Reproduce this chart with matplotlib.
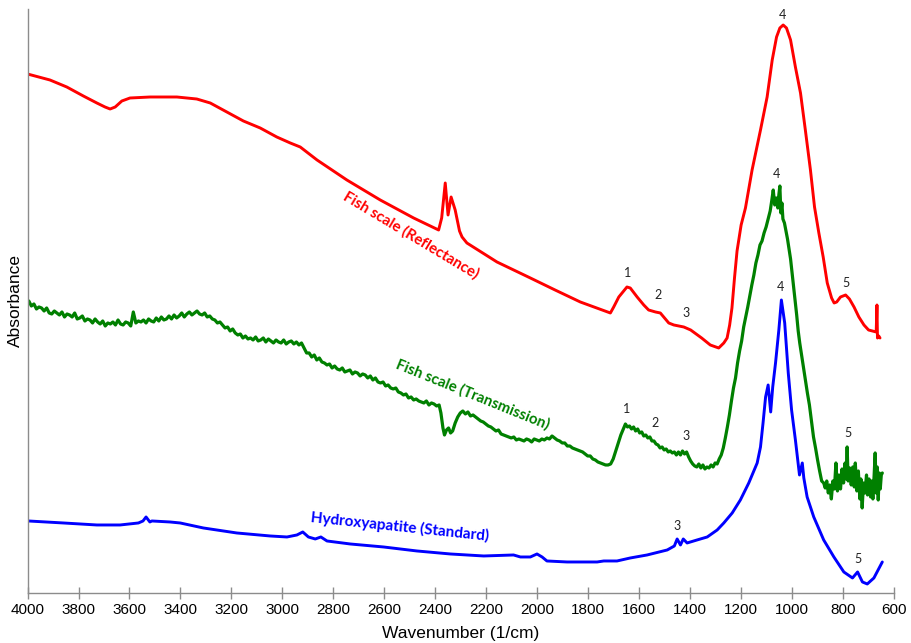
import matplotlib
matplotlib.use("Agg")
import matplotlib.pyplot as plt

# ---- Fish scale, reflectance spectrum (wavenumber, absorbance a.u.) ----
refl_wn = [4000, 3912, 3846, 3781, 3728, 3696, 3676, 3656, 3630, 3598, 3519, 3414,
           3336, 3283, 3218, 3153, 3087, 3022, 2969, 2930, 2864, 2747, 2616, 2485,
           2387, 2375, 2361, 2350, 2338, 2322, 2305, 2295, 2276, 2158, 2027, 1930,
           1831, 1713, 1700, 1680, 1648, 1635, 1608, 1582, 1563, 1536, 1517, 1484,
           1464, 1425, 1398, 1355, 1321, 1288, 1268, 1255, 1245, 1236, 1226, 1216,
           1200, 1183, 1157, 1124, 1098, 1078, 1061, 1048, 1035, 1022, 1006, 987,
           967, 948, 928, 912, 895, 878, 862, 845, 835, 825, 810, 790, 775, 757,
           738, 718, 700, 685, 670, 667, 665, 660, 655]
refl_abs = [5.19, 5.13, 5.06, 4.97, 4.90, 4.86, 4.84, 4.86, 4.92, 4.95, 4.96, 4.96,
            4.94, 4.90, 4.81, 4.72, 4.65, 4.56, 4.50, 4.46, 4.33, 4.13, 3.93, 3.75,
            3.63, 3.75, 4.10, 3.78, 3.96, 3.83, 3.62, 3.56, 3.50, 3.31, 3.15, 3.03,
            2.91, 2.80, 2.86, 2.96, 3.06, 3.05, 2.96, 2.88, 2.83, 2.81, 2.80, 2.70,
            2.68, 2.66, 2.63, 2.55, 2.48, 2.45, 2.50, 2.55, 2.68, 2.85, 3.15, 3.42,
            3.68, 3.85, 4.23, 4.63, 4.96, 5.33, 5.56, 5.65, 5.68, 5.65, 5.53, 5.26,
            5.00, 4.63, 4.23, 3.86, 3.60, 3.36, 3.10, 2.95, 2.90, 2.91, 2.96, 2.98,
            2.94, 2.86, 2.76, 2.68, 2.63, 2.62, 2.61, 2.88, 2.55, 2.57, 2.55]

# ---- Fish scale, transmission spectrum ----
trans_wn = [3995, 3985, 3975, 3965, 3955, 3945, 3935, 3925, 3915, 3905, 3895, 3885,
            3875, 3865, 3855, 3845, 3835, 3825, 3815, 3805, 3795, 3785, 3775, 3765,
            3755, 3745, 3735, 3725, 3715, 3705, 3695, 3685, 3675, 3665, 3655, 3645,
            3635, 3625, 3615, 3605, 3595, 3585, 3575, 3565, 3555, 3545, 3535, 3525,
            3515, 3505, 3495, 3485, 3475, 3465, 3455, 3445, 3435, 3425, 3415, 3405,
            3395, 3385, 3375, 3365, 3355, 3345, 3335, 3325, 3315, 3305, 3295, 3285,
            3275, 3265, 3255, 3245, 3235, 3225, 3215, 3205, 3195, 3185, 3175, 3165,
            3155, 3145, 3135, 3125, 3115, 3105, 3095, 3085, 3075, 3065, 3055, 3045,
            3035, 3025, 3015, 3005, 2995, 2985, 2975, 2965, 2955, 2945, 2935, 2925,
            2915, 2905, 2895, 2885, 2875, 2865, 2855, 2845, 2835, 2825, 2815, 2805,
            2795, 2785, 2775, 2765, 2755, 2745, 2735, 2725, 2715, 2705, 2695, 2685,
            2675, 2665, 2655, 2645, 2635, 2625, 2615, 2605, 2595, 2585, 2575, 2565,
            2555, 2545, 2535, 2525, 2515, 2505, 2495, 2485, 2475, 2465, 2455, 2445,
            2435, 2425, 2415, 2405, 2395, 2385, 2378, 2370, 2364, 2356, 2348, 2340,
            2332, 2322, 2312, 2302, 2292, 2282, 2272, 2262, 2252, 2242, 2232, 2222,
            2212, 2202, 2192, 2182, 2172, 2162, 2152, 2142, 2132, 2122, 2112, 2102,
            2092, 2082, 2072, 2062, 2052, 2042, 2032, 2022, 2012, 2002, 1992, 1982,
            1972, 1962, 1952, 1942, 1932, 1922, 1912, 1902, 1892, 1882, 1872, 1862,
            1852, 1842, 1832, 1822, 1812, 1802, 1792, 1782, 1772, 1762, 1752, 1742,
            1732, 1722, 1712, 1702, 1692, 1682, 1672, 1662, 1654, 1646, 1638, 1630,
            1622, 1614, 1606, 1598, 1590, 1582, 1574, 1566, 1558, 1550, 1542, 1534,
            1526, 1518, 1510, 1502, 1494, 1486, 1478, 1470, 1462, 1454, 1446, 1438,
            1430, 1422, 1414, 1406, 1398, 1390, 1382, 1374, 1366, 1358, 1350, 1342,
            1334, 1326, 1318, 1310, 1302, 1294, 1286, 1278, 1270, 1262, 1254, 1246,
            1238, 1230, 1222, 1214, 1206, 1198, 1190, 1182, 1174, 1166, 1158, 1150,
            1142, 1134, 1126, 1118, 1110, 1102, 1094, 1086, 1080, 1074, 1068, 1062,
            1056, 1052, 1048, 1044, 1040, 1036, 1030, 1024, 1018, 1012, 1006, 1000,
            994, 988, 982, 976, 970, 964, 958, 952, 946, 940, 932, 924,
            916, 908, 900, 892, 884, 876, 870, 864, 858, 852, 846, 840,
            834, 828, 822, 816, 810, 804, 798, 792, 788, 784, 780, 774,
            768, 762, 756, 752, 746, 740, 734, 730, 725, 720, 714, 708,
            704, 698, 692, 688, 683, 678, 674, 670, 666, 662, 658, 654,
            650, 646]
trans_abs = [2.92, 2.87, 2.89, 2.84, 2.86, 2.85, 2.82, 2.85, 2.80, 2.79, 2.82, 2.80,
             2.78, 2.81, 2.76, 2.79, 2.78, 2.76, 2.80, 2.74, 2.75, 2.77, 2.72, 2.74,
             2.73, 2.70, 2.74, 2.71, 2.69, 2.72, 2.67, 2.70, 2.69, 2.71, 2.68, 2.73,
             2.69, 2.68, 2.71, 2.70, 2.67, 2.81, 2.70, 2.72, 2.71, 2.73, 2.70, 2.74,
             2.72, 2.71, 2.75, 2.72, 2.76, 2.73, 2.74, 2.77, 2.74, 2.78, 2.75, 2.77,
             2.80, 2.76, 2.79, 2.81, 2.78, 2.80, 2.82, 2.79, 2.78, 2.80, 2.76, 2.77,
             2.74, 2.73, 2.70, 2.71, 2.68, 2.65, 2.66, 2.62, 2.64, 2.60, 2.58, 2.59,
             2.55, 2.57, 2.54, 2.55, 2.53, 2.56, 2.52, 2.53, 2.55, 2.51, 2.54, 2.52,
             2.50, 2.53, 2.51, 2.50, 2.53, 2.49, 2.51, 2.52, 2.49, 2.51, 2.48, 2.50,
             2.45, 2.40, 2.40, 2.36, 2.38, 2.33, 2.35, 2.31, 2.30, 2.28, 2.29, 2.25,
             2.27, 2.24, 2.23, 2.25, 2.21, 2.22, 2.23, 2.19, 2.21, 2.20, 2.17, 2.19,
             2.18, 2.15, 2.17, 2.13, 2.15, 2.11, 2.10, 2.11, 2.07, 2.08, 2.05, 2.04,
             2.05, 2.01, 2.00, 1.98, 1.99, 1.95, 1.96, 1.93, 1.94, 1.92, 1.91, 1.90,
             1.92, 1.88, 1.90, 1.89, 1.87, 1.88, 1.80, 1.65, 1.58, 1.63, 1.65, 1.60,
             1.62, 1.70, 1.76, 1.80, 1.82, 1.79, 1.81, 1.77, 1.78, 1.76, 1.74, 1.72,
             1.71, 1.69, 1.67, 1.66, 1.64, 1.62, 1.63, 1.59, 1.58, 1.57, 1.56, 1.55,
             1.56, 1.53, 1.54, 1.53, 1.52, 1.54, 1.53, 1.51, 1.54, 1.53, 1.52, 1.54,
             1.53, 1.55, 1.54, 1.57, 1.55, 1.53, 1.52, 1.50, 1.50, 1.47, 1.47, 1.45,
             1.44, 1.43, 1.42, 1.41, 1.39, 1.37, 1.37, 1.34, 1.33, 1.31, 1.30, 1.29,
             1.28, 1.28, 1.29, 1.34, 1.42, 1.50, 1.58, 1.64, 1.69, 1.66, 1.67, 1.64,
             1.66, 1.62, 1.64, 1.60, 1.61, 1.57, 1.58, 1.55, 1.56, 1.52, 1.52, 1.49,
             1.48, 1.45, 1.46, 1.43, 1.44, 1.41, 1.42, 1.40, 1.41, 1.38, 1.41, 1.38,
             1.42, 1.39, 1.41, 1.36, 1.32, 1.29, 1.27, 1.26, 1.29, 1.25, 1.28, 1.24,
             1.26, 1.25, 1.28, 1.26, 1.30, 1.29, 1.34, 1.38, 1.45, 1.55, 1.66, 1.78,
             1.92, 2.05, 2.15, 2.30, 2.42, 2.52, 2.66, 2.76, 2.86, 2.97, 3.08, 3.18,
             3.30, 3.38, 3.48, 3.52, 3.60, 3.66, 3.74, 3.82, 3.92, 4.03, 3.88, 3.95,
             3.85, 3.98, 4.07, 3.80, 3.90, 3.74, 3.70, 3.62, 3.54, 3.44, 3.34, 3.20,
             3.05, 2.92, 2.78, 2.62, 2.50, 2.40, 2.30, 2.20, 2.10, 2.00, 1.88, 1.72,
             1.56, 1.45, 1.33, 1.22, 1.12, 1.10, 1.05, 1.12, 1.00, 1.08, 0.94, 1.12,
             1.04, 1.30, 1.02, 1.18, 1.04, 1.24, 1.10, 1.30, 1.14, 1.46, 1.12, 1.25,
             1.08, 1.26, 1.06, 1.30, 1.02, 1.22, 0.94, 1.14, 0.85, 1.10, 1.00, 1.18,
             0.98, 1.14, 0.96, 1.12, 0.94, 1.18, 1.40, 1.00, 1.26, 0.93, 1.20, 1.04,
             1.18, 1.20]

# ---- Hydroxyapatite standard ----
hap_wn = [3997, 3859, 3728, 3637, 3565, 3547, 3535, 3520, 3512, 3441, 3401, 3310,
          3179, 3048, 2982, 2943, 2920, 2898, 2871, 2849, 2825, 2734, 2603, 2472,
          2341, 2210, 2093, 2066, 2027, 2001, 1981, 1962, 1883, 1765, 1739, 1687,
          1635, 1569, 1490, 1462, 1451, 1438, 1427, 1412, 1373, 1333, 1294, 1268,
          1235, 1203, 1170, 1137, 1124, 1114, 1104, 1094, 1084, 1076, 1065, 1052,
          1042, 1029, 1015, 1002, 987, 971, 960, 954, 941, 915, 876, 836, 797,
          763, 743, 724, 705, 679, 646]
hap_abs = [0.72, 0.70, 0.68, 0.68, 0.70, 0.72, 0.76, 0.71, 0.72, 0.71, 0.70, 0.65,
           0.60, 0.57, 0.56, 0.58, 0.61, 0.56, 0.54, 0.56, 0.52, 0.49, 0.46, 0.42,
           0.39, 0.37, 0.38, 0.36, 0.36, 0.39, 0.36, 0.32, 0.31, 0.31, 0.32, 0.32,
           0.35, 0.38, 0.43, 0.47, 0.54, 0.48, 0.54, 0.50, 0.53, 0.56, 0.63, 0.70,
           0.80, 0.93, 1.10, 1.30, 1.46, 1.70, 1.96, 2.08, 1.81, 2.06, 2.30, 2.63,
           2.93, 2.70, 2.20, 1.83, 1.53, 1.18, 1.30, 1.15, 0.96, 0.76, 0.53, 0.36,
           0.21, 0.15, 0.21, 0.11, 0.09, 0.15, 0.31]

# ---- Band numbers (wavenumber, absorbance, label) ----
refl_bands = [(1647, 3.20, "1"), (1526, 2.98, "2"), (1416, 2.80, "3"),
              (1039, 5.78, "4"), (790, 3.10, "5")]
trans_bands = [(1651, 1.84, "1"), (1539, 1.70, "2"), (1416, 1.57, "3"),
               (1061, 4.19, "4"), (780, 1.60, "5")]
hap_bands = [(1451, 0.67, "3"), (1046, 3.06, "4"), (742, 0.34, "5")]

x_ticks = [4000, 3800, 3600, 3400, 3200, 3000, 2800, 2600, 2400, 2200, 2000,
           1800, 1600, 1400, 1200, 1000, 800, 600]

RED, GREEN, BLUE = "#FF0000", "#008000", "#0000FF"

fig = plt.figure(figsize=(9.12, 6.43), dpi=100)
ax = fig.add_axes([0.0302, 0.0778, 0.9501, 0.9082])

line_kw = dict(solid_joinstyle="round", solid_capstyle="round")
ax.plot(refl_wn, refl_abs, color=RED, lw=2.1, **line_kw)
ax.plot(trans_wn, trans_abs, color=GREEN, lw=2.3, **line_kw)
ax.plot(hap_wn, hap_abs, color=BLUE, lw=2.1, **line_kw)

num_font = dict(family=["Lato", "DejaVu Sans"], fontsize=9, color="#222222",
                ha="center", va="center")
for bands in (refl_bands, trans_bands, hap_bands):
    for w, a, s in bands:
        ax.text(w, a, s, **num_font)

lab_font = dict(family=["Lato", "DejaVu Sans"], fontweight="bold",
                ha="center", va="center", rotation_mode="anchor")
ax.text(2494, 3.58, "Fish scale (Reflectance)", color=RED, rotation=-31,
        fontsize=10.8, **lab_font)
ax.text(2254, 1.98, "Fish scale (Transmission)", color=GREEN, rotation=-22,
        fontsize=10.8, **lab_font)
ax.text(2541, 0.66, "Hydroxyapatite (Standard)", color=BLUE, rotation=-6,
        fontsize=11, **lab_font)

ax.set_xlim(4000, 600)
ax.set_ylim(0, 5.84)
ax.set_xticks(x_ticks)
ax.set_yticks([])
for side in ("top", "right"):
    ax.spines[side].set_visible(False)
for side in ("left", "bottom"):
    ax.spines[side].set_color("#8c8c8c")
    ax.spines[side].set_linewidth(1.0)
ax.tick_params(axis="x", direction="inout", length=8, width=1.0, color="#8c8c8c",
               pad=3)
for lbl in ax.get_xticklabels():
    lbl.set_fontfamily(["Liberation Sans Narrow", "Liberation Sans", "DejaVu Sans"])
    lbl.set_fontsize(11)

ax.set_xlabel("Wavenumber (1/cm)", family=["Liberation Sans", "DejaVu Sans"],
              fontsize=12.5, labelpad=7)
ax.set_ylabel("Absorbance", family=["Liberation Sans", "DejaVu Sans"],
              fontsize=12.5, labelpad=3)

fig.savefig("out.png", dpi=100)
